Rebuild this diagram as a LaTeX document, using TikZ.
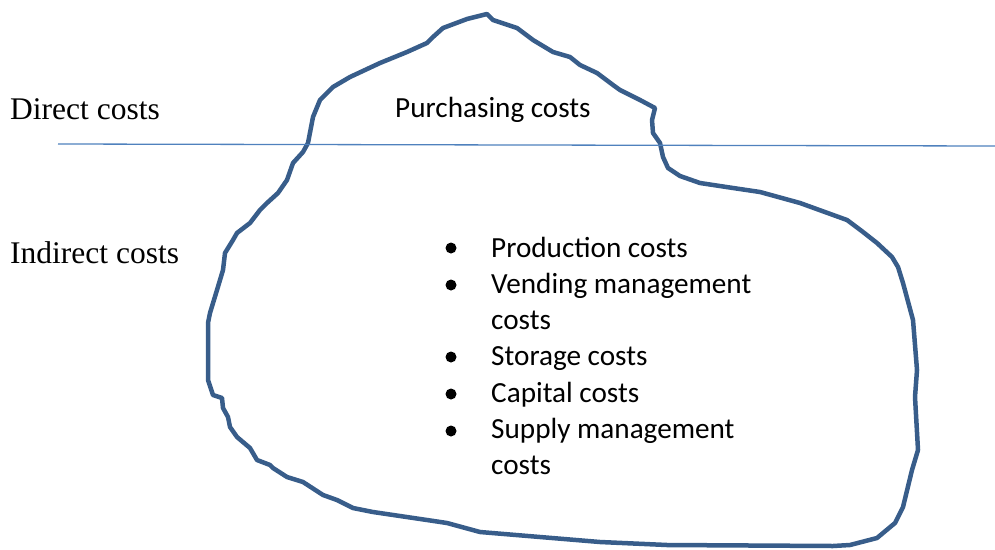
\documentclass[tikz,border=0pt]{standalone}
\usepackage{fontspec}
\setmainfont{Liberation Serif}
\newfontfamily\calib{Carlito}
\definecolor{berg}{HTML}{385D8A}
\definecolor{waterline}{HTML}{4F81BD}
\tikzset{
  serlabel/.style={anchor=base west, inner sep=0pt, font=\fontsize{31.5}{36}\selectfont},
  callabel/.style={anchor=base west, inner sep=0pt, font=\calib\fontsize{29.2}{34}\selectfont},
  bulletdot/.style={circle, fill=black, inner sep=0pt, minimum size=11pt},
  bergline/.style={draw=berg, line width=4.5pt, line join=round, line cap=round},
}
\begin{document}
\begin{tikzpicture}[x=1pt,y=-1pt]
\useasboundingbox (0,0) rectangle (995,549);
% iceberg outline
\draw[bergline] (487,14) -- (493,20) -- (517,28) -- (533,40) -- (553,52) -- (570,57) -- (580,65) -- (597,73) -- (613,85) -- (620,90) -- (630,95) -- (640,100) -- (655,108) -- (652,120) -- (653,133) -- (660,143) -- (663,157) -- (668,168) -- (680,176) -- (700,183) -- (733,188) -- (760,192) -- (800,203) -- (847,220) -- (863,232) -- (877,243) -- (892,257) -- (898,267) -- (903,283) -- (913,320) -- (917,370) -- (915,397) -- (918,450) -- (912,470) -- (903,507) -- (895,523) -- (877,538) -- (850,545) -- (833,546) -- (667,545) -- (600,542) -- (480,532) -- (447,523) -- (427,520) -- (373,512) -- (353,508) -- (337,500) -- (323,495) -- (303,482) -- (287,477) -- (273,468) -- (270,465) -- (257,460) -- (250,448) -- (237,437) -- (230,427) -- (228,417) -- (223,408) -- (222,398) -- (213,395) -- (208,380) -- (208,323) -- (210,313) -- (217,290) -- (223,270) -- (225,253) -- (233,240) -- (237,233) -- (250,223) -- (260,210) -- (267,203) -- (278,193) -- (287,180) -- (293,163) -- (303,152) -- (308,143) -- (313,117) -- (320,100) -- (333,87) -- (350,77) -- (380,63) -- (407,52) -- (427,43) -- (433,37) -- (443,28) -- (467,19) -- cycle;
% water line
\coordinate (wl) at (58,144);
\coordinate (wr) at (995,146);
\draw[waterline, line width=1.3pt] (wl) -- (wr);
% labels
\node[serlabel] (direct) at (10,119) {Direct costs};
\node[serlabel] (indirect) at (10,263) {Indirect costs};
\node[callabel] (purch) at (395,117) {Purchasing costs};
% bullets
\node[bulletdot] (b1) at (451,248) {};
\node[bulletdot] (b2) at (451,285) {};
\node[bulletdot] (b3) at (451,357) {};
\node[bulletdot] (b4) at (451,394) {};
\node[bulletdot] (b5) at (451,431) {};
\node[callabel] (t1) at (491,257) {Production costs};
\node[callabel] (t2) at (491,293) {Vending management};
\node[callabel] (t2b) at (491,329) {costs};
\node[callabel] (t3) at (491,365) {Storage costs};
\node[callabel] (t4) at (491,402) {Capital costs};
\node[callabel] (t5) at (491,438) {Supply management};
\node[callabel] (t5b) at (491,474) {costs};
\end{tikzpicture}
\end{document}
